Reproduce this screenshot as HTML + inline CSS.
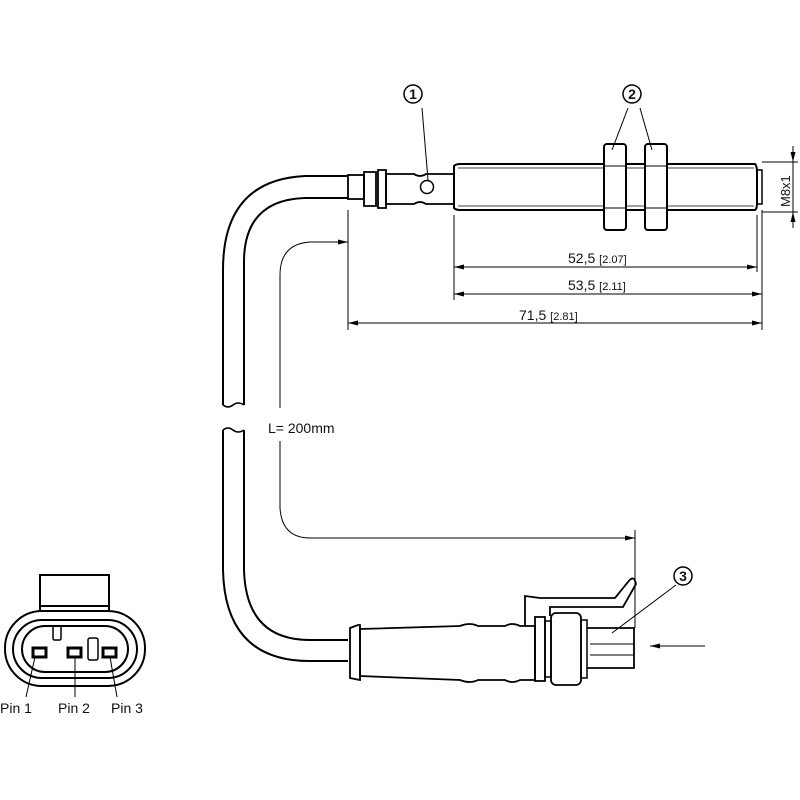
<!DOCTYPE html>
<html><head><style>body{margin:0;background:#fff}svg{display:block}text{font-family:"Liberation Sans",sans-serif;fill:#111}</style></head><body>
<svg width="800" height="800" viewBox="0 0 800 800" xmlns="http://www.w3.org/2000/svg">
<defs><marker id="a" markerWidth="10" markerHeight="6" refX="10" refY="3" orient="auto-start-reverse" markerUnits="userSpaceOnUse"><path d="M0,0.5 L10,3 L0,5.5z" fill="#000"/></marker></defs>
<g fill="none" stroke="#000" stroke-width="2">
<path d="M348,176 L305,176 Q223,180 223,270 L223,405"/>
<path d="M348,198 L305,198 Q244,200 244,262 L244,405"/>
<path d="M223,405 q5,4 10,0 q5,-4 11,0" stroke-width="1.5"/>
<path d="M223,430 q5,-4 10,0 q5,4 11,0" stroke-width="1.5"/>
<path d="M223,430 L223,570 Q225,661 310,661 L348,661"/>
<path d="M244,430 L244,570 Q246,640 310,640 L348,640"/>
<rect x="348" y="175" width="16" height="24" stroke-width="1.8"/>
<path d="M364,172 h12 v34 h-12z" stroke-width="1.8"/>
<path d="M378,170 h8 v38 h-8z" stroke-width="1.8"/>
<path d="M386,174 h28 q6,4 12,0 h28 v30 h-28 q-6,-4 -12,0 h-28z" stroke-width="1.8"/>
<circle cx="427" cy="187" r="6.5" stroke-width="1.5"/>
<path d="M454,166 Q456,164 460,164 L755,164 Q757,166 757,172 L757,203 Q757,209 755,210 L460,210 Q456,210 454,208z" stroke-width="2"/>
<line x1="458" y1="168" x2="754" y2="168" stroke-width="0.8"/>
<line x1="458" y1="206" x2="754" y2="206" stroke-width="0.8"/>
<rect x="757" y="170" width="5" height="34" stroke-width="1.5"/>
<rect x="604" y="144" width="22" height="86" rx="3" fill="#fff"/>
<rect x="645" y="144" width="22" height="86" rx="3" fill="#fff"/>
<line x1="605" y1="166" x2="625" y2="166" stroke-width="1"/><line x1="605" y1="208" x2="625" y2="208" stroke-width="1"/>
<line x1="646" y1="166" x2="666" y2="166" stroke-width="1"/><line x1="646" y1="208" x2="666" y2="208" stroke-width="1"/>
<path d="M350,628 L358,625 L360,625 L360,680 L350,678z" stroke-width="1.8"/>
<path d="M360,629 L460,626 Q470,622 478,626 L505,626 Q512,622 520,626 L535,626 L535,680 L520,680 Q512,684 505,680 L478,680 Q470,684 460,680 L360,676z" stroke-width="1.8"/>
<path d="M525,626 L525,596 L540,598 L615,598 L628,582 Q634,574 636,584 L623,607 L550,607 L550,616" stroke-width="1.8"/>
<rect x="535" y="617" width="10" height="64" stroke-width="1.8"/>
<rect x="545" y="621" width="6" height="56" stroke-width="1.5"/>
<rect x="551" y="613" width="30" height="72" rx="5" stroke-width="1.8"/>
<rect x="581" y="620" width="6" height="58" stroke-width="1.5"/>
<path d="M587,628 L634,628 L634,668 L587,668" stroke-width="1.8"/>
<line x1="590" y1="644" x2="634" y2="644" stroke-width="1"/>
<line x1="590" y1="655" x2="634" y2="655" stroke-width="1"/>
</g>
<g fill="none" stroke="#000" stroke-width="1">
<line x1="422" y1="108" x2="428" y2="180"/>
<line x1="628" y1="108" x2="612" y2="150"/>
<line x1="640" y1="108" x2="652" y2="150"/>
<line x1="676" y1="585" x2="612" y2="633"/>
<line x1="705" y1="646" x2="650" y2="646" marker-end="url(#a)"/>
<line x1="348" y1="210" x2="348" y2="330"/>
<line x1="454" y1="215" x2="454" y2="300"/>
<line x1="757" y1="215" x2="757" y2="272"/>
<line x1="762" y1="210" x2="762" y2="330"/>
<line x1="454" y1="267" x2="757" y2="267" marker-start="url(#a)" marker-end="url(#a)"/>
<line x1="454" y1="294" x2="762" y2="294" marker-start="url(#a)" marker-end="url(#a)"/>
<line x1="348" y1="323" x2="762" y2="323" marker-start="url(#a)" marker-end="url(#a)"/>
<line x1="762" y1="162" x2="798" y2="162"/><line x1="762" y1="212" x2="798" y2="212"/>
<line x1="793" y1="146" x2="793" y2="162" marker-end="url(#a)"/>
<line x1="793" y1="228" x2="793" y2="212" marker-end="url(#a)"/>
<line x1="793" y1="162" x2="793" y2="212"/>
<path d="M348,242 L310,242 Q280,244 280,275 L280,408" marker-start="url(#a)"/>
<path d="M280,441 L280,508 Q282,538 310,538 L635,538" marker-end="url(#a)"/>
<line x1="635" y1="530" x2="635" y2="628"/>
<g stroke-width="1.5"><circle cx="413" cy="94" r="9"/><circle cx="632" cy="94" r="9"/><circle cx="683" cy="576" r="9"/></g>
</g>
<g font-size="14">
<text x="568" y="263">52,5 <tspan font-size="11">[2.07]</tspan></text>
<text x="568" y="290">53,5 <tspan font-size="11">[2.11]</tspan></text>
<text x="519" y="320">71,5 <tspan font-size="11">[2.81]</tspan></text>
<text x="268" y="433">L= 200mm</text>
<text transform="translate(790,207) rotate(-90)" font-size="13">M8x1</text>
<text x="413" y="99" font-size="14" text-anchor="middle" font-weight="bold">1</text>
<text x="632" y="99" font-size="14" text-anchor="middle" font-weight="bold">2</text>
<text x="683" y="581" font-size="14" text-anchor="middle" font-weight="bold">3</text>
<text x="0" y="713">Pin 1</text><text x="58" y="713">Pin 2</text><text x="111" y="713">Pin 3</text>
</g>
<g fill="none" stroke="#000" stroke-width="2">
<rect x="40" y="575" width="69" height="36" fill="#fff"/>
<line x1="40" y1="606" x2="109" y2="606"/>
<rect x="5" y="611" width="140" height="75" rx="37" fill="#fff"/>
<rect x="13" y="620" width="124" height="58" rx="29"/>
<rect x="22" y="626" width="106" height="46" rx="23"/>
<rect x="53" y="626" width="8" height="14" rx="1.5" stroke-width="1.5"/>
<rect x="88" y="638" width="10" height="22" rx="2" stroke-width="1.5"/>
<rect x="33" y="648" width="13" height="9" stroke-width="3"/>
<rect x="68" y="648" width="13" height="9" stroke-width="3"/>
<rect x="103" y="648" width="13" height="9" stroke-width="3"/>
</g>
<g stroke="#000" stroke-width="1"><line x1="35" y1="657" x2="26" y2="697"/><line x1="75" y1="657" x2="75" y2="697"/><line x1="110" y1="657" x2="117" y2="697"/></g>
</svg>
</body></html>
